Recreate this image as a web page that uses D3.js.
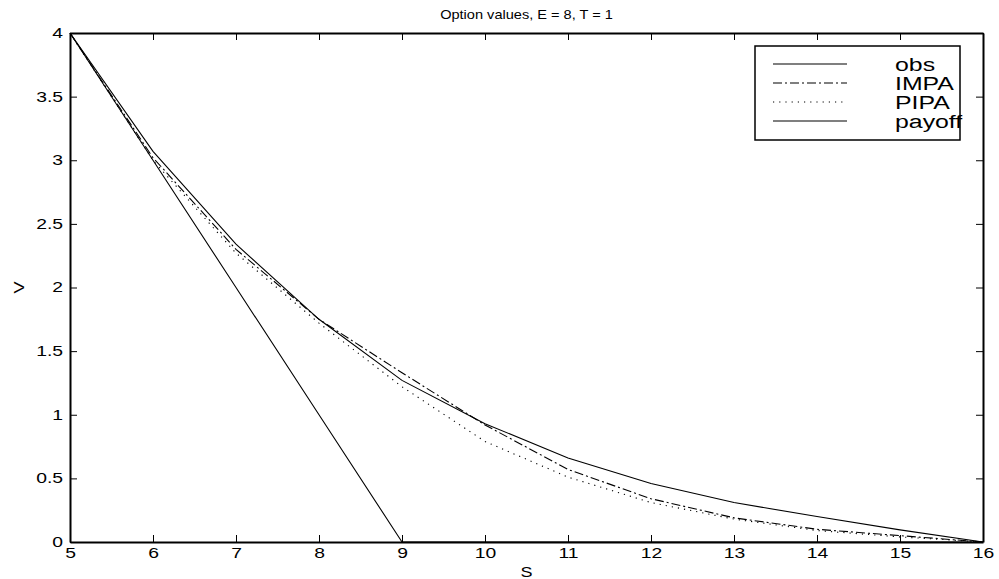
<!DOCTYPE html>
<html>
<head>
<meta charset="utf-8">
<script src="https://cdn.jsdelivr.net/npm/d3@7"></script>
<style>
  body { margin: 0; background: #fff; }
  svg { display: block; font-family: "Liberation Sans", Arial, sans-serif; }
</style>
</head>
<body>
<svg width="999" height="579"></svg>
<script>
// values
const sVals = [5, 6, 7, 8, 9, 10, 11, 12, 13, 14, 15, 16];
const obsVals = [4, 3.07, 2.34, 1.75, 1.27, 0.93, 0.66, 0.46, 0.31, 0.20, 0.095, 0];
const impaVals = [4, 3.02, 2.30, 1.75, 1.33, 0.92, 0.57, 0.34, 0.19, 0.10, 0.05, 0];
const pipaVals = [4, 3.00, 2.27, 1.72, 1.22, 0.79, 0.51, 0.31, 0.18, 0.09, 0.04, 0];
const payoffVals = [4, 3, 2, 1, 0, 0, 0, 0, 0, 0, 0, 0];
const xTicks = [5, 6, 7, 8, 9, 10, 11, 12, 13, 14, 15, 16];
const yTicks = [0, 0.5, 1, 1.5, 2, 2.5, 3, 3.5, 4];
const seriesNames = ['obs', 'IMPA', 'PIPA', 'payoff'];

const margin = {left: 70, right: 16, top: 33, bottom: 37};
const width = 999 - margin.left - margin.right;
const height = 579 - margin.top - margin.bottom;

const svg = d3.select('svg');
const chart = svg.append('g')
    .attr('transform', `translate(${margin.left}, ${margin.top})`);

const xScale = d3.scaleLinear().domain([5, 16]).range([0, width]);
const yScale = d3.scaleLinear().domain([0, 4]).range([height, 0]);

const dashes = ['none', '9,3,2,3', '1.2,5', 'none'];
const allVals = [obsVals, impaVals, pipaVals, payoffVals];

// the old print font is wider than Liberation Sans, so stretch text sideways
function stretch(sel, factor) {
    sel.each(function () {
        const w = this.getComputedTextLength();
        d3.select(this)
            .attr('textLength', w * factor)
            .attr('lengthAdjust', 'spacingAndGlyphs');
    });
}

const line = d3.line()
    .x((d, i) => xScale(sVals[i]))
    .y(d => yScale(d));

allVals.forEach((vals, k) => {
    chart.append('path')
        .datum(vals)
        .attr('fill', 'none')
        .attr('stroke', '#000')
        .attr('stroke-width', 1.1)
        .attr('stroke-dasharray', dashes[k])
        .attr('d', line);
});

// axes with ticks pointing inward on all sides
const tickLen = 7;
const styleAxis = g => {
    g.select('.domain').attr('stroke', '#000').attr('stroke-width', 2);
    g.selectAll('.tick line').attr('stroke', '#000');
    g.selectAll('text').attr('font-size', 14).attr('fill', '#000');
};

chart.append('g')
    .attr('transform', `translate(0, ${height})`)
    .call(d3.axisBottom(xScale).tickValues(xTicks).tickSizeInner(-tickLen).tickSizeOuter(0).tickPadding(6).tickFormat(d3.format('d')))
    .call(styleAxis)
    .selectAll('text').call(stretch, 1.38);

chart.append('g')
    .call(d3.axisTop(xScale).tickValues(xTicks).tickSizeInner(-tickLen).tickSizeOuter(0).tickFormat(''))
    .call(styleAxis);

chart.append('g')
    .call(d3.axisLeft(yScale).tickValues(yTicks).tickSizeInner(-tickLen).tickSizeOuter(0).tickPadding(7).tickFormat(d => d))
    .call(styleAxis)
    .selectAll('text').call(stretch, 1.38);

chart.append('g')
    .attr('transform', `translate(${width}, 0)`)
    .call(d3.axisRight(yScale).tickValues(yTicks).tickSizeInner(-tickLen).tickSizeOuter(0).tickFormat(''))
    .call(styleAxis);

// title and axis labels
svg.append('text')
    .attr('x', margin.left + width / 2)
    .attr('y', 19)
    .attr('text-anchor', 'middle')
    .attr('font-size', 13)
    .text('Option values, E = 8, T = 1')
    .call(stretch, 1.12);

svg.append('text')
    .attr('x', margin.left + width / 2)
    .attr('y', 577)
    .attr('text-anchor', 'middle')
    .attr('font-size', 15)
    .text('S')
    .call(stretch, 1.2);

svg.append('text')
    .attr('transform', `translate(24, ${margin.top + height / 2}) rotate(-90)`)
    .attr('text-anchor', 'middle')
    .attr('font-size', 15)
    .text('V')
    .call(stretch, 1.2);

// legend
const legend = svg.append('g').attr('transform', 'translate(755, 46)');
legend.append('rect')
    .attr('width', 205).attr('height', 94)
    .attr('fill', '#fff').attr('stroke', '#000').attr('stroke-width', 1.5);

seriesNames.forEach((name, k) => {
    const yy = 18 + k * 19;
    legend.append('line')
        .attr('x1', 18).attr('x2', 92)
        .attr('y1', yy).attr('y2', yy)
        .attr('stroke', '#000').attr('stroke-width', 1.1)
        .attr('stroke-dasharray', dashes[k]);
    legend.append('text')
        .attr('x', 140).attr('y', yy + 7)
        .attr('font-size', 18)
        .text(name)
        .call(stretch, 1.38);
});
</script>
</body>
</html>
